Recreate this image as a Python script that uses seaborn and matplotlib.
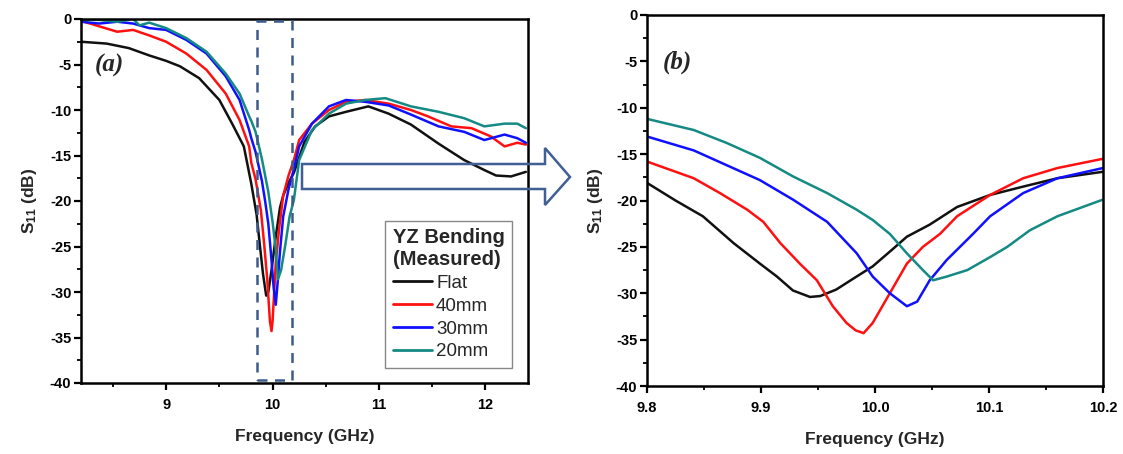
import numpy as np
import pandas as pd
import matplotlib
matplotlib.use("Agg")
import matplotlib.pyplot as plt
import seaborn as sns
from matplotlib.patches import Rectangle, Polygon
from matplotlib.ticker import MultipleLocator, FormatStrFormatter

# ---------------- data ----------------
series_names = ["Flat", "40mm", "30mm", "20mm"]
series_colors = ["#111111", "#ff1010", "#1010ff", "#158a84"]

# Panel (a): wide band
flat_f_a = [8.2, 8.44, 8.65, 8.84, 9.0, 9.13, 9.31, 9.5, 9.62, 9.73, 9.8, 9.85, 9.88, 9.91, 9.94,
            9.96, 9.99, 10.03, 10.07, 10.1, 10.15, 10.2, 10.3, 10.4, 10.53, 10.69, 10.9, 11.09,
            11.3, 11.56, 11.8, 11.99, 12.1, 12.24, 12.38]
flat_s_a = [-2.5, -2.7, -3.2, -4.0, -4.6, -5.2, -6.5, -8.9, -11.5, -14.0, -18.1, -21.5, -24.8, -28.0, -30.4,
            -30.0, -27.6, -23.9, -20.7, -19.4, -18.0, -16.9, -13.5, -11.8, -10.7, -10.2, -9.6, -10.4,
            -11.6, -13.7, -15.5, -16.6, -17.2, -17.3, -16.8]

r40_f_a = [8.2, 8.37, 8.54, 8.69, 8.84, 9.0, 9.19, 9.38, 9.56, 9.69, 9.78, 9.8, 9.84, 9.89, 9.92, 9.95,
           9.975, 9.99, 10.0, 10.03, 10.06, 10.1, 10.15, 10.2, 10.25, 10.37, 10.53, 10.69, 10.87,
           11.09, 11.3, 11.46, 11.68, 11.87, 12.05, 12.18, 12.3, 12.38]
r40_s_a = [-0.2, -0.8, -1.4, -1.2, -1.8, -2.5, -3.8, -5.6, -8.2, -11.1, -14.0, -15.8, -17.6, -21.0, -24.6, -28.6,
           -33.2, -34.3, -33.2, -26.8, -23.2, -19.4, -17.2, -15.5, -13.3, -11.5, -10.0, -9.1, -8.9,
           -9.3, -10.0, -10.7, -11.8, -12.0, -12.9, -14.0, -13.6, -13.8]

r30_f_a = [8.2, 8.37, 8.54, 8.69, 8.84, 9.0, 9.19, 9.38, 9.56, 9.69, 9.78, 9.8, 9.84, 9.9, 9.93, 9.96,
           9.99, 10.01, 10.03, 10.05, 10.07, 10.1, 10.15, 10.2, 10.25, 10.37, 10.53, 10.69, 10.87,
           11.09, 11.3, 11.56, 11.8, 11.99, 12.18, 12.3, 12.38]
r30_s_a = [-0.3, -0.5, -0.3, -0.5, -1.0, -1.2, -2.3, -3.8, -6.3, -8.9, -12.2, -13.1, -14.6, -17.8, -20.0, -22.5,
           -26.5, -29.5, -31.4, -28.6, -25.5, -21.7, -18.7, -16.5, -14.0, -11.5, -9.6, -8.9, -9.1,
           -9.5, -10.5, -11.8, -12.4, -13.3, -12.7, -13.1, -13.6]

r20_f_a = [8.2, 8.37, 8.54, 8.69, 8.75, 8.84, 9.0, 9.19, 9.38, 9.56, 9.69, 9.78, 9.8, 9.84, 9.9, 9.96,
           10.0, 10.03, 10.05, 10.08, 10.12, 10.16, 10.2, 10.25, 10.37, 10.53, 10.69, 10.87, 11.06,
           11.3, 11.56, 11.8, 11.99, 12.18, 12.3, 12.38]
r20_s_a = [-0.1, -0.1, -0.3, 0.0, -0.7, -0.4, -1.0, -2.1, -3.6, -6.0, -8.2, -10.7, -11.2, -12.4, -15.4, -19.0,
           -22.3, -25.3, -28.6, -27.6, -24.8, -21.7, -19.9, -15.5, -12.2, -10.4, -9.3, -8.9, -8.7,
           -9.6, -10.2, -10.9, -11.8, -11.5, -11.5, -12.0]

# Panel (b): zoom 9.8 - 10.2 GHz
flat_f_b = [9.80, 9.825, 9.849, 9.876, 9.899, 9.914, 9.928, 9.943, 9.952, 9.966, 9.98, 9.998,
            10.015, 10.028, 10.048, 10.072, 10.101, 10.13, 10.16, 10.2]
flat_s_b = [-18.1, -20.0, -21.7, -24.6, -26.8, -28.2, -29.7, -30.4, -30.3, -29.6, -28.5, -27.1,
            -25.3, -23.9, -22.6, -20.7, -19.4, -18.5, -17.6, -16.9]

r40_f_b = [9.80, 9.841, 9.864, 9.888, 9.902, 9.917, 9.934, 9.949, 9.963, 9.975, 9.983, 9.990, 9.998,
           10.013, 10.028, 10.042, 10.057, 10.072, 10.101, 10.13, 10.16, 10.2]
r40_s_b = [-15.8, -17.6, -19.2, -21.0, -22.3, -24.6, -26.8, -28.6, -31.4, -33.2, -34.0, -34.3, -33.2,
           -30.0, -26.8, -25.0, -23.6, -21.7, -19.4, -17.6, -16.5, -15.5]

r30_f_b = [9.80, 9.841, 9.870, 9.899, 9.928, 9.958, 9.984, 9.998, 10.013, 10.028, 10.037, 10.048,
           10.063, 10.086, 10.101, 10.13, 10.16, 10.2]
r30_s_b = [-13.1, -14.6, -16.2, -17.8, -19.9, -22.3, -25.7, -28.2, -30.0, -31.4, -30.9, -28.6,
           -26.4, -23.6, -21.7, -19.2, -17.6, -16.5]

r20_f_b = [9.80, 9.841, 9.870, 9.899, 9.928, 9.958, 9.984, 9.998, 10.013, 10.028, 10.042, 10.051,
           10.063, 10.081, 10.101, 10.116, 10.136, 10.16, 10.2]
r20_s_b = [-11.2, -12.4, -13.8, -15.4, -17.4, -19.2, -21.0, -22.1, -23.6, -25.7, -27.5, -28.6,
           -28.2, -27.5, -26.1, -25.0, -23.2, -21.7, -19.9]

freqs_a = [flat_f_a, r40_f_a, r30_f_a, r20_f_a]
vals_a = [flat_s_a, r40_s_a, r30_s_a, r20_s_a]
freqs_b = [flat_f_b, r40_f_b, r30_f_b, r20_f_b]
vals_b = [flat_s_b, r40_s_b, r30_s_b, r20_s_b]

legend_title = "YZ Bending\n(Measured)"
xlabel = "Frequency (GHz)"
ylabel = r"$\mathrm{S}_{\mathrm{11}}$ (dB)"

# ---------------- style ----------------
sns.set_theme(style="ticks")
plt.rcParams["font.family"] = ["Liberation Sans", "DejaVu Sans"]
plt.rcParams["font.weight"] = "bold"
plt.rcParams["axes.unicode_minus"] = False
plt.rcParams["mathtext.fontset"] = "custom"
plt.rcParams["mathtext.rm"] = "Liberation Sans:bold"
plt.rcParams["mathtext.it"] = "Liberation Sans:bold"
plt.rcParams["mathtext.bf"] = "Liberation Sans:bold"

fig = plt.figure(figsize=(11.23, 4.54), dpi=100)
fig.patch.set_facecolor("white")
W, H = 1123, 454


def px_axes(x0, y0, x1, y1):
    return fig.add_axes([x0 / W, 1 - y1 / H, (x1 - x0) / W, (y1 - y0) / H])


ax_a = px_axes(81, 19, 528, 383)
ax_b = px_axes(647, 15, 1103, 386)


def long_df(freqs, vals):
    rows = []
    for name, fs, vs in zip(series_names, freqs, vals):
        for f, v in zip(fs, vs):
            rows.append((name, f, v))
    return pd.DataFrame(rows, columns=["series", "freq", "s11"])


df_a = long_df(freqs_a, vals_a)
df_b = long_df(freqs_b, vals_b)
pal = dict(zip(series_names, series_colors))

sns.lineplot(data=df_a, x="freq", y="s11", hue="series", hue_order=series_names,
             palette=pal, estimator=None, sort=False, lw=1.8, ax=ax_a)
sns.lineplot(data=df_b, x="freq", y="s11", hue="series", hue_order=series_names,
             palette=pal, estimator=None, sort=False, lw=1.8, ax=ax_b, legend=False)

for ax in (ax_a, ax_b):
    ax.set_ylim(-40, 0)
    ax.yaxis.set_major_locator(MultipleLocator(5))
    ax.yaxis.set_minor_locator(MultipleLocator(2.5))
    for sp in ax.spines.values():
        sp.set_linewidth(1.8)
        sp.set_color("black")
    ax.tick_params(which="major", direction="out", length=5, width=1.6, labelsize=10.5,
                   pad=2, colors="black")
    ax.tick_params(which="minor", direction="out", length=3, width=1.3, colors="black")
    ax.set_xlabel(xlabel, fontsize=12.5, fontweight="bold", labelpad=12)
    ax.set_ylabel(ylabel, fontsize=12.5, fontweight="bold", labelpad=8)
    ax.set_facecolor("white")

ax_a.set_xlim(8.2, 12.4)
ax_a.xaxis.set_major_locator(MultipleLocator(1))
ax_a.xaxis.set_minor_locator(MultipleLocator(0.5))
ax_b.set_xlim(9.8, 10.2)
ax_b.xaxis.set_major_locator(MultipleLocator(0.1))
ax_b.xaxis.set_minor_locator(MultipleLocator(0.05))
ax_b.xaxis.set_major_formatter(FormatStrFormatter("%.1f"))
ax_a.tick_params(axis="x", pad=6)
ax_b.tick_params(axis="x", pad=6)

# panel letters
ax_a.text(0.03, 0.855, "(a)", transform=ax_a.transAxes, fontsize=18, style="italic",
          fontweight="bold", family=["Liberation Serif", "DejaVu Serif"])
ax_b.text(0.035, 0.855, "(b)", transform=ax_b.transAxes, fontsize=18, style="italic",
          fontweight="bold", family=["Liberation Serif", "DejaVu Serif"])

# dashed zoom box
ax_a.add_patch(Rectangle((9.85, -39.7), 0.33, 39.5, fill=False, ls=(0, (4, 3)),
                         lw=1.8, edgecolor="#3d5a8a", zorder=5))

# legend
leg = ax_a.legend(title=legend_title, loc="lower right", bbox_to_anchor=(0.986, 0.016),
                  prop={"size": 13.5, "weight": "normal"},
                  title_fontproperties={"weight": "bold", "size": 14.5},
                  frameon=True, fancybox=False, edgecolor="#888888", framealpha=1,
                  handlelength=2.1, handletextpad=0.2, labelspacing=0.3, borderpad=0.4)
leg.get_frame().set_linewidth(1.0)
leg._legend_box.align = "left"
for line in leg.get_lines():
    line.set_linewidth(2)

# hollow block arrow (figure pixel coords)
arrow_px = [(302, 164), (545, 164), (545, 148), (570, 177), (545, 205), (545, 189), (302, 189)]
arrow = Polygon([(x / W, 1 - y / H) for x, y in arrow_px], closed=True, fill=False,
                edgecolor="#3f5f95", lw=1.8, transform=fig.transFigure, zorder=10)
fig.patches.append(arrow)

fig.savefig("out.png", dpi=100, facecolor="white")
